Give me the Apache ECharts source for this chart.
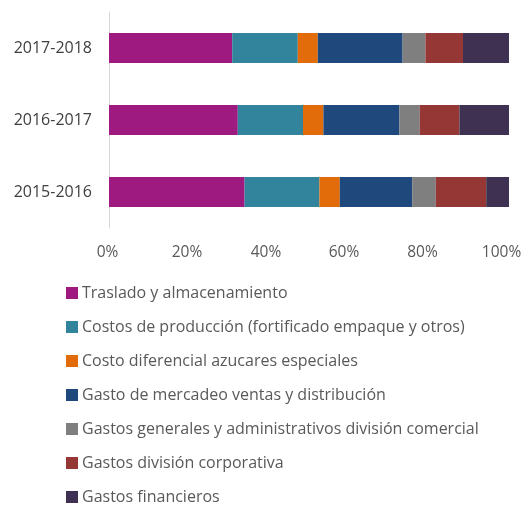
<!DOCTYPE html>
<html>
<head>
<meta charset="utf-8">
<script src="https://cdn.jsdelivr.net/npm/echarts@6/dist/echarts.min.js"></script>
<style>
  html, body { margin: 0; padding: 0; background: #fff; }
  #chart { width: 529px; height: 506px; }
</style>
</head>
<body>
<div id="chart"></div>
<script>
// Fiscal years (bottom to top on the category axis)
const years = ['2015-2016', '2016-2017', '2017-2018'];

// Share of total cost per component, in percent, ordered as years
const traslado      = [33.9, 32.2, 30.8];
const produccion    = [18.7, 16.3, 16.4];
const diferencial   = [5.1, 5.1, 5.0];
const mercadeo      = [18.1, 19.0, 21.2];
const generales     = [5.9, 5.1, 5.7];
const corporativa   = [12.6, 9.9, 9.4];
const financieros   = [5.7, 12.4, 11.5];

const seriesNames = [
  'Traslado y almacenamiento',
  'Costos de producción (fortificado empaque y otros)',
  'Costo diferencial azucares especiales',
  'Gasto de mercadeo ventas y distribución',
  'Gastos generales y administrativos división comercial',
  'Gastos división corporativa',
  'Gastos financieros'
];
const seriesValues = [traslado, produccion, diferencial, mercadeo, generales, corporativa, financieros];
const seriesColors = ['#9E1A80', '#31849B', '#E36C0A', '#1F497D', '#7F7F7F', '#953735', '#3F3151'];

const tickLabels = ['0%', '20%', '40%', '60%', '80%', '100%'];
// small leftward nudge (px) per tick label
const tickNudge = [1.5, 2, 3, 5, 6.5, 7.5];

const FONT = '"Open Sans", Lato, sans-serif';

const rich = {};
tickNudge.forEach((n, i) => {
  rich['t' + i] = { color: '#595959', fontSize: 15.5, fontFamily: FONT, padding: [0, n * 2, 0, 0] };
});

const chart = echarts.init(document.getElementById('chart'), null, { renderer: 'canvas' });

chart.setOption({
  animation: false,
  color: seriesColors,
  textStyle: { fontFamily: FONT },
  grid: { left: 109, right: 20, top: 12, height: 216, containLabel: false },
  xAxis: {
    type: 'value',
    min: 0,
    max: 100,
    interval: 20,
    axisLine: { show: false },
    axisTick: { show: false },
    splitLine: { show: false },
    axisLabel: {
      color: '#595959',
      fontSize: 15.5,
      fontFamily: FONT,
      margin: 17,
      formatter: (v) => {
        const i = Math.round(v / 20);
        return '{t' + i + '|' + tickLabels[i] + '}';
      },
      rich: rich
    }
  },
  yAxis: {
    type: 'category',
    data: years,
    axisLine: { show: true, lineStyle: { color: '#D9D9D9', width: 1 } },
    axisTick: { show: false },
    axisLabel: { color: '#404040', fontSize: 16, fontFamily: FONT, margin: 17 }
  },
  legend: {
    orient: 'vertical',
    left: 61,
    top: 280,
    height: 240,
    itemWidth: 12,
    itemHeight: 12,
    itemGap: 18,
    icon: 'rect',
    textStyle: { color: '#595959', fontSize: 16, fontFamily: FONT, padding: [0, 0, 0, -1] },
    data: seriesNames
  },
  series: seriesNames.map((name, i) => ({
    name: name,
    type: 'bar',
    stack: 'total',
    barWidth: 30,
    data: seriesValues[i]
  }))
});
</script>
</body>
</html>
